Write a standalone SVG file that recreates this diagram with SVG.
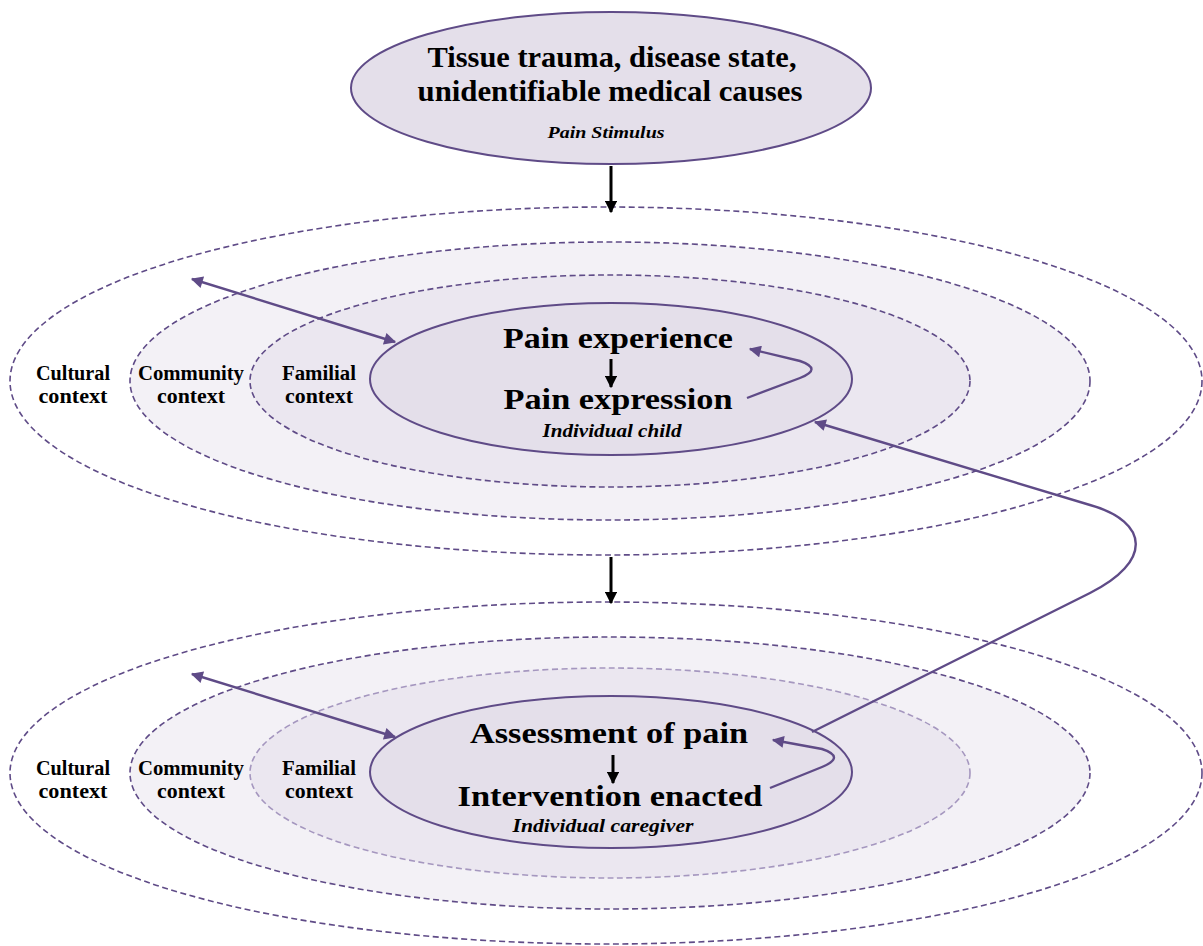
<svg xmlns="http://www.w3.org/2000/svg" width="1203" height="946" viewBox="0 0 1203 946">
  <defs>
    <style>
      .ctx { fill: none; stroke: #5f4b87; stroke-width: 1.6; stroke-dasharray: 6 3.5; }
      .ctx-light { fill: none; stroke: #a597bf; stroke-width: 1.6; stroke-dasharray: 6 3.5; }
      .core { fill: #e4dfea; stroke: #5f4b87; stroke-width: 2; }
      .title { font-family: "Liberation Serif", "DejaVu Serif", serif; font-weight: bold; fill: #000; text-anchor: middle; }
      .sub { font-family: "Liberation Serif", "DejaVu Serif", serif; font-weight: bold; font-style: italic; fill: #000; text-anchor: middle; }
      .lbl { font-family: "Liberation Serif", "DejaVu Serif", serif; font-weight: bold; font-size: 20px; fill: #000; text-anchor: middle; }
      .flow { fill: none; stroke: #000; stroke-width: 3; }
      .link { fill: none; stroke: #5f4b87; stroke-width: 2.4; }
    </style>
    <marker id="blackHead" viewBox="0 0 10 10" refX="9" refY="5" markerWidth="4.2" markerHeight="4.2" orient="auto">
      <path d="M0,0 L10,5 L0,10 z" fill="#000"/>
    </marker>
    <marker id="purpleHead" viewBox="0 0 10 10" refX="9" refY="5" markerWidth="5.5" markerHeight="5" orient="auto-start-reverse">
      <path d="M0,0 L10,5 L0,10 z" fill="#5f4b87"/>
    </marker>
  </defs>

  <rect width="1203" height="946" fill="#ffffff"/>

  <!-- Pain stimulus -->
  <g id="stimulus">
    <ellipse cx="611" cy="88" rx="260" ry="76" fill="#e4dfea" stroke="#5f4b87" stroke-width="2"/>
    <text class="title" x="612" y="67" font-size="29" textLength="369" lengthAdjust="spacingAndGlyphs">Tissue trauma, disease state,</text>
    <text class="title" x="610" y="101" font-size="29" textLength="385" lengthAdjust="spacingAndGlyphs">unidentifiable medical causes</text>
    <text class="sub" x="606" y="138" font-size="17" textLength="117" lengthAdjust="spacingAndGlyphs">Pain Stimulus</text>
  </g>

  <!-- Child system: nested contexts -->
  <g id="child-cultural">
    <ellipse class="ctx" cx="606" cy="381" rx="596" ry="174"/>
    <text class="lbl" x="73" y="380" textLength="74" lengthAdjust="spacingAndGlyphs">Cultural</text>
    <text class="lbl" x="73" y="403" textLength="69" lengthAdjust="spacingAndGlyphs">context</text>
  </g>
  <g id="child-community">
    <ellipse class="ctx" cx="610" cy="381" rx="480" ry="139" style="fill:#f3f1f6"/>
    <text class="lbl" x="191" y="380" textLength="106" lengthAdjust="spacingAndGlyphs">Community</text>
    <text class="lbl" x="191" y="403" textLength="68" lengthAdjust="spacingAndGlyphs">context</text>
  </g>
  <g id="child-familial">
    <ellipse class="ctx" cx="610" cy="381" rx="360" ry="106" style="fill:#ebe7f0"/>
    <text class="lbl" x="319" y="380" textLength="74" lengthAdjust="spacingAndGlyphs">Familial</text>
    <text class="lbl" x="319" y="403" textLength="68" lengthAdjust="spacingAndGlyphs">context</text>
  </g>
  <g id="child-individual">
    <ellipse class="core" cx="611" cy="379" rx="241" ry="76"/>
    <text class="title" x="618" y="348" font-size="29" textLength="230" lengthAdjust="spacingAndGlyphs">Pain experience</text>
    <text class="title" x="618" y="409" font-size="29" textLength="229" lengthAdjust="spacingAndGlyphs">Pain expression</text>
    <text class="sub" x="612" y="437" font-size="19" textLength="139" lengthAdjust="spacingAndGlyphs">Individual child</text>
  </g>

  <!-- Caregiver system: nested contexts -->
  <g id="caregiver-cultural">
    <ellipse class="ctx" cx="606" cy="773" rx="596" ry="171"/>
    <text class="lbl" x="73" y="775" textLength="74" lengthAdjust="spacingAndGlyphs">Cultural</text>
    <text class="lbl" x="73" y="798" textLength="69" lengthAdjust="spacingAndGlyphs">context</text>
  </g>
  <g id="caregiver-community">
    <ellipse class="ctx" cx="610" cy="773" rx="480" ry="136" style="fill:#f3f1f6"/>
    <text class="lbl" x="191" y="775" textLength="106" lengthAdjust="spacingAndGlyphs">Community</text>
    <text class="lbl" x="191" y="798" textLength="68" lengthAdjust="spacingAndGlyphs">context</text>
  </g>
  <g id="caregiver-familial">
    <ellipse class="ctx-light" cx="610" cy="773" rx="360" ry="105" style="fill:#ebe7f0"/>
    <text class="lbl" x="319" y="775" textLength="74" lengthAdjust="spacingAndGlyphs">Familial</text>
    <text class="lbl" x="319" y="798" textLength="68" lengthAdjust="spacingAndGlyphs">context</text>
  </g>
  <g id="caregiver-individual">
    <ellipse class="core" cx="611" cy="772" rx="241" ry="76"/>
    <text class="title" x="609" y="743" font-size="29" textLength="278" lengthAdjust="spacingAndGlyphs">Assessment of pain</text>
    <text class="title" x="610" y="806" font-size="29" textLength="305" lengthAdjust="spacingAndGlyphs">Intervention enacted</text>
    <text class="sub" x="603" y="832" font-size="19" textLength="181" lengthAdjust="spacingAndGlyphs">Individual caregiver</text>
  </g>

  <!-- Connectors -->
  <g id="connectors">
    <!-- main flow -->
    <line class="flow" x1="611" y1="166" x2="611" y2="212" marker-end="url(#blackHead)"/>
    <line class="flow" x1="611" y1="557" x2="611" y2="603" marker-end="url(#blackHead)"/>
    <line class="flow" x1="611" y1="359" x2="611" y2="387" marker-end="url(#blackHead)"/>
    <line class="flow" x1="613" y1="755" x2="613" y2="783" marker-end="url(#blackHead)"/>

    <!-- context exchange -->
    <line class="link" x1="192" y1="279" x2="395" y2="342" marker-start="url(#purpleHead)" marker-end="url(#purpleHead)"/>
    <line class="link" x1="192" y1="674" x2="395" y2="737" marker-start="url(#purpleHead)" marker-end="url(#purpleHead)"/>

    <!-- feedback within each individual -->
    <path class="link" d="M747,398 L800,378 Q823,369 800,361 L750,349" marker-end="url(#purpleHead)"/>
    <path class="link" d="M770,788 L822,767 Q846,757 822,749 L773,740" marker-end="url(#purpleHead)"/>

    <!-- caregiver response back to child -->
    <path class="link" d="M812,732 L1090,593 C1152,562 1150,522 1090,505 L815,422" marker-end="url(#purpleHead)"/>
  </g>
</svg>
